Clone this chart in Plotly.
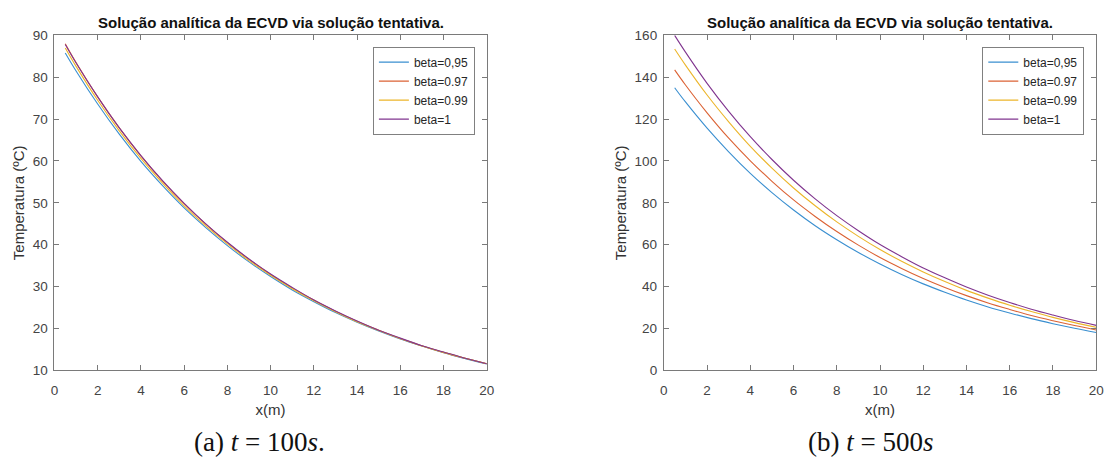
import plotly.graph_objects as go

# ---------------- data ----------------
x_vals = [0.5, 1, 2, 3, 4, 5, 6, 7, 8, 9, 10, 11, 12, 13, 14, 15, 16, 17, 18, 19, 20]

labels = ["beta=0,95", "beta=0.97", "beta=0.99", "beta=1"]

# (a) t = 100 s
a_b095 = [85.8, 81.5, 73.6, 66.4, 59.9, 54.1, 48.8, 44.1, 39.8, 35.9, 32.4, 29.2, 26.4, 23.8, 21.5, 19.4, 17.5, 15.8, 14.2, 12.8, 11.5]
a_b097 = [88.0, 83.5, 75.3, 67.9, 61.2, 55.2, 49.8, 44.9, 40.5, 36.5, 32.9, 29.7, 26.8, 24.1, 21.7, 19.6, 17.6, 15.9, 14.3, 12.9, 11.6]
a_b099 = [87.0, 82.6, 74.5, 67.2, 60.6, 54.7, 49.3, 44.5, 40.2, 36.2, 32.7, 29.5, 26.6, 24.0, 21.6, 19.5, 17.6, 15.8, 14.3, 12.9, 11.6]
a_b100 = [87.8, 83.4, 75.3, 67.9, 61.3, 55.3, 49.9, 45.0, 40.6, 36.6, 33.0, 29.8, 26.8, 24.2, 21.8, 19.6, 17.7, 15.9, 14.4, 12.9, 11.6]

# (b) t = 500 s
b_b095 = [135.0, 128.2, 115.7, 104.4, 94.1, 84.9, 76.6, 69.1, 62.4, 56.3, 50.8, 45.8, 41.3, 37.3, 33.6, 30.3, 27.4, 24.7, 22.3, 20.1, 18.1]
b_b097 = [143.5, 136.3, 123.0, 110.9, 100.1, 90.3, 81.4, 73.5, 66.3, 59.8, 53.9, 48.7, 43.9, 39.6, 35.7, 32.2, 29.1, 26.2, 23.7, 21.4, 19.3]
b_b099 = [153.5, 145.8, 131.5, 118.7, 107.0, 96.6, 87.1, 78.6, 70.9, 64.0, 57.7, 52.1, 47.0, 42.4, 38.2, 34.5, 31.1, 28.1, 25.3, 22.8, 20.6]
b_b100 = [160.0, 152.0, 137.1, 123.7, 111.6, 100.7, 90.8, 81.9, 73.9, 66.7, 60.1, 54.3, 48.9, 44.2, 39.8, 35.9, 32.4, 29.2, 26.4, 23.8, 21.5]

x_ticks = [0, 2, 4, 6, 8, 10, 12, 14, 16, 18, 20]
a_yticks = [10, 20, 30, 40, 50, 60, 70, 80, 90]
b_yticks = [0, 20, 40, 60, 80, 100, 120, 140, 160]

title_text = "Solução analítica da ECVD via solução tentativa."
caption_a = "(a) <i>t</i> = 100<i>s</i>."
caption_b = "(b) <i>t</i> = 500<i>s</i>"

colors = ["#3a8fd0", "#db6234", "#ecb52a", "#80358f"]

# ---------------- figure ----------------
fig = go.Figure()

for ys, lab, col in zip([a_b095, a_b097, a_b099, a_b100], labels, colors):
    fig.add_trace(go.Scatter(x=x_vals, y=ys, mode="lines", name=lab,
                             line=dict(color=col, width=1.1, shape="spline"),
                             xaxis="x", yaxis="y", legend="legend"))
for ys, lab, col in zip([b_b095, b_b097, b_b099, b_b100], labels, colors):
    fig.add_trace(go.Scatter(x=x_vals, y=ys, mode="lines", name=lab,
                             line=dict(color=col, width=1.1, shape="spline"),
                             xaxis="x2", yaxis="y2", legend="legend2"))

W, H = 1120, 464
axis_col = "#7a7a7a"
tick_font = dict(family="Liberation Sans, Arial", size=13.5, color="#444444")
label_font = dict(family="Liberation Sans, Arial", size=15, color="#333333")

def xaxis(domain, anchor):
    return dict(domain=domain, anchor=anchor, range=[0, 20], tickvals=x_ticks,
                showgrid=False, zeroline=False, showline=True, linecolor=axis_col,
                linewidth=1, mirror="ticks", ticks="inside", ticklen=5,
                tickcolor=axis_col, tickfont=tick_font, ticklabelstandoff=7,
                title=dict(text="x(m)", font=label_font, standoff=7))

def yaxis(domain, anchor, rng, tv):
    return dict(domain=domain, anchor=anchor, range=rng, tickvals=tv,
                showgrid=False, zeroline=False, showline=True, linecolor=axis_col,
                linewidth=1, mirror="ticks", ticks="inside", ticklen=5,
                tickcolor=axis_col, tickfont=tick_font, ticklabelstandoff=3,
                title=dict(text="Temperatura (ºC)", font=label_font, standoff=4))

ydom = [(H - 375.5) / H, (H - 29.3) / H]
xdom_a = [51 / W, 488 / W]
xdom_b = [667 / W, 1104 / W]

legend_style = dict(bgcolor="white", bordercolor="#808080", borderwidth=1,
                    font=dict(family="Liberation Sans, Arial", size=12, color="#262626"),
                    xanchor="right", yanchor="top", tracegroupgap=0,
                    itemwidth=30)

fig.update_layout(
    width=W, height=H,
    margin=dict(l=0, r=0, t=0, b=0),
    paper_bgcolor="white", plot_bgcolor="white",
    showlegend=True,
    xaxis=xaxis(xdom_a, "y"),
    yaxis=yaxis(ydom, "x", [10, 90], a_yticks),
    xaxis2=xaxis(xdom_b, "y2"),
    yaxis2=yaxis(ydom, "x2", [0, 160], b_yticks),
    legend=dict(x=476 / W, y=(H - 41) / H, **legend_style),
    legend2=dict(x=1092 / W, y=(H - 41) / H, **legend_style),
)

title_font = dict(family="Liberation Sans, Arial", size=15, color="#111111")
for xc, cap, xcap in [((51 + 488) / 2, caption_a, 258), ((667 + 1104) / 2, caption_b, 876)]:
    fig.add_annotation(text="<b>" + title_text + "</b>", x=xc / W, y=(H - 16) / H,
                       xref="paper", yref="paper", showarrow=False,
                       xanchor="center", yanchor="middle", font=title_font)
    fig.add_annotation(text=cap, x=xcap / W, y=(H - 450) / H,
                       xref="paper", yref="paper", showarrow=False,
                       xanchor="center", yanchor="middle",
                       font=dict(family="Liberation Serif, DejaVu Serif, serif", size=27, color="#111111"))

fig.write_html("out.html")
